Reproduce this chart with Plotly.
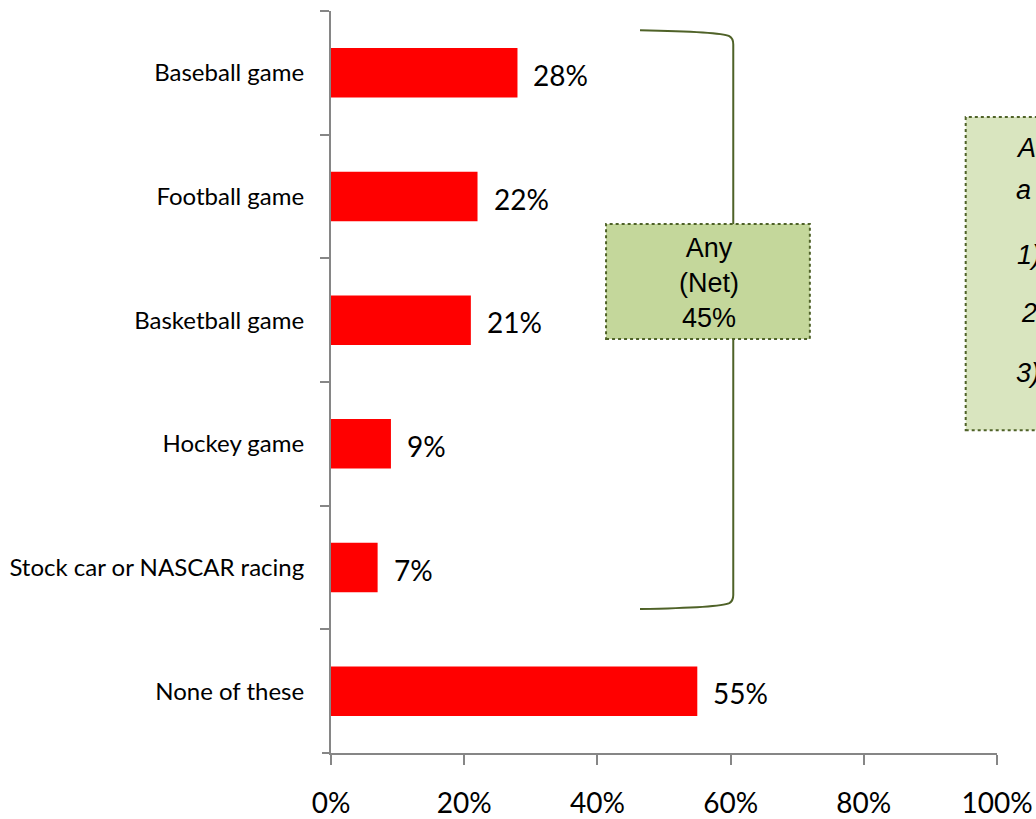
import plotly.graph_objects as go

categories = ["Baseball game", "Football game", "Basketball game", "Hockey game",
              "Stock car or NASCAR racing", "None of these"]
values = [28, 22, 21, 9, 7, 55]
value_labels = ["28%", "22%", "21%", "9%", "7%", "55%"]
x_ticks = [0, 20, 40, 60, 80, 100]
x_tick_labels = ["0%", "20%", "40%", "60%", "80%", "100%"]
net_label = "Any<br>(Net)<br>45%"
side_lines = ["A", "a", "1)", "2", "3)"]

AX = "#868686"
OLIVE = "#4f6228"

fig = go.Figure()
fig.add_trace(go.Bar(
    y=categories, x=values, orientation="h",
    marker=dict(color="#ff0000", line=dict(width=0)),
    width=0.40, hoverinfo="skip",
))

ann = []
for c, v, t in zip(categories, values, value_labels):
    ann.append(dict(x=v, y=c, xref="x", yref="y", text=t, showarrow=False,
                    xanchor="left", yanchor="middle", xshift=14, yshift=-2,
                    font=dict(family="Lato, Carlito, sans-serif", size=28, color="#000")))

# Net box text
ann.append(dict(x=0.567, y=0.633, xref="paper", yref="paper", text=net_label,
                showarrow=False, xanchor="center", yanchor="middle",
                font=dict(family="Liberation Sans, Arial, sans-serif", size=27, color="#000")))

# side box text (cut off at the right edge, as in the original)
side_y = [148, 190, 255, 313, 373]
side_x = [1014, 1014, 1015, 1019, 1014]
for t, py, px in zip(side_lines, side_y, side_x):
    ann.append(dict(x=(px - 331) / 666, y=(753 - py) / 742, xref="paper", yref="paper",
                    text="<i>%s</i>" % t, showarrow=False, xanchor="left", yanchor="middle",
                    font=dict(family="Liberation Sans, Arial, sans-serif", size=27, color="#000")))

shapes = [
    # x-axis line extension to the left
    dict(type="line", xref="paper", yref="paper", x0=-0.0135, x1=0, y0=0, y1=0,
         line=dict(color=AX, width=2)),
    # brace
    dict(type="path", xref="paper", yref="paper",
         path="M 0.464,0.974 Q 0.585,0.972 0.598,0.966 Q 0.604,0.963 0.604,0.955 "
              "L 0.604,0.213 Q 0.604,0.205 0.598,0.202 Q 0.585,0.196 0.464,0.194",
         line=dict(color=OLIVE, width=2)),
    # net box
    dict(type="rect", xref="paper", yref="paper", x0=0.413, x1=0.719, y0=0.558, y1=0.713,
         fillcolor="#c4d79b", line=dict(color=OLIVE, width=2, dash="dot"), layer="above"),
    # side box
    dict(type="rect", xref="paper", yref="paper", x0=0.953, x1=1.2, y0=0.435, y1=0.857,
         fillcolor="#d9e5bf", line=dict(color=OLIVE, width=2, dash="dot")),
]

fig.update_layout(
    width=1036, height=819,
    margin=dict(l=331, r=39, t=11, b=66, autoexpand=False),
    paper_bgcolor="white", plot_bgcolor="white",
    showlegend=False,
    bargap=0.6,
    xaxis=dict(range=[0, 100], tickvals=x_ticks, ticktext=x_tick_labels,
               showgrid=False, zeroline=False, showline=True, linecolor=AX, linewidth=2,
               ticks="outside", ticklen=10, tickwidth=2, tickcolor=AX,
               ticklabelstandoff=14,
               tickfont=dict(family="Lato, Carlito, sans-serif", size=28, color="#000"),
               fixedrange=True),
    yaxis=dict(autorange="reversed", type="category", tickson="boundaries",
               showgrid=False, zeroline=False, showline=True, linecolor=AX, linewidth=2,
               ticks="outside", ticklen=9, tickwidth=2, tickcolor=AX,
               ticklabelstandoff=20,
               tickfont=dict(family="Lato, Carlito, sans-serif", size=24, color="#000"),
               fixedrange=True),
    annotations=ann,
    shapes=shapes,
)

fig.write_html("out.html", config={"displayModeBar": False},
               post_script="document.body.style.margin='0';"
                           "document.documentElement.style.overflow='hidden';")
